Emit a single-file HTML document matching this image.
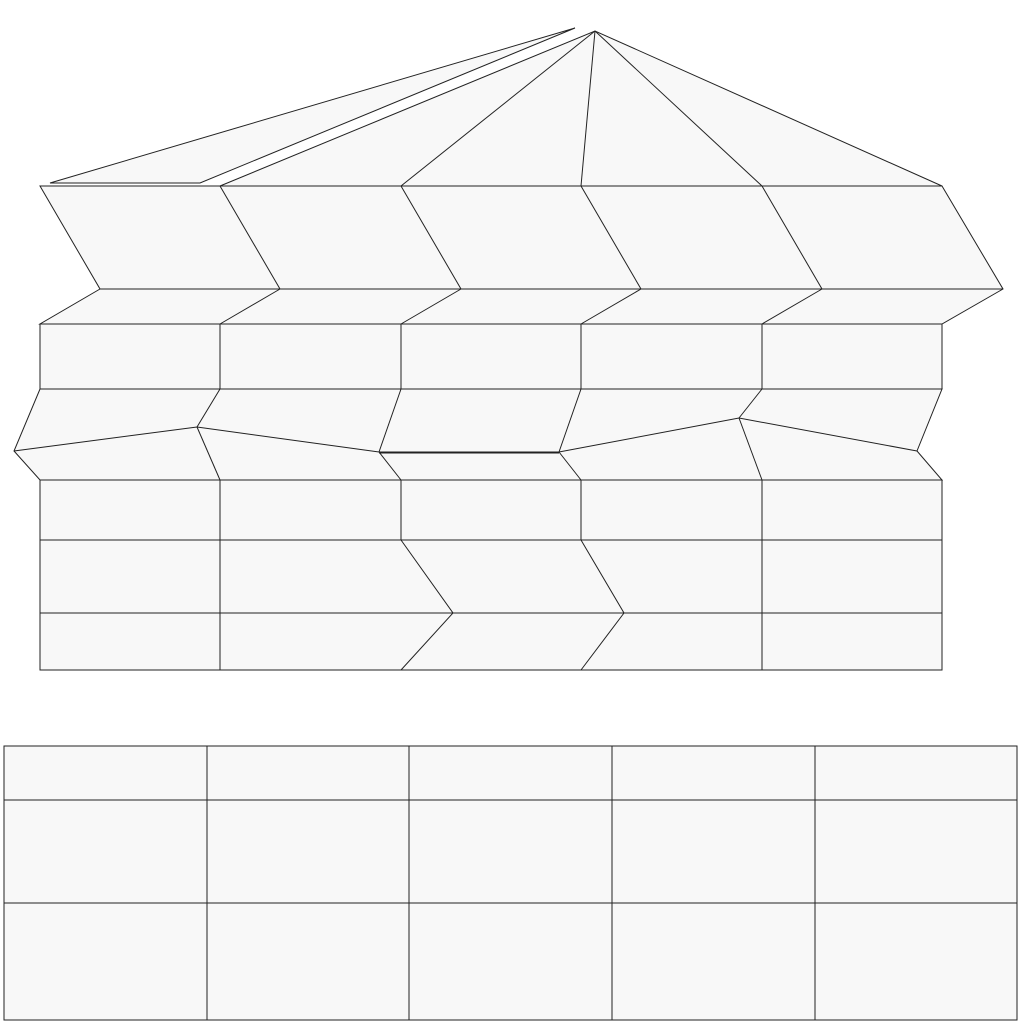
<!DOCTYPE html>
<html><head><meta charset="utf-8"><style>
html,body{margin:0;padding:0;background:#fff;width:1024px;height:1024px;overflow:hidden}
svg{display:block}
</style></head><body>
<svg width="1024" height="1024" viewBox="0 0 1024 1024" fill="#f8f8f8" stroke="#222" stroke-width="1">
<g>
<polygon points="50,183 575,28 200,183"/>
<polygon points="220,186 595,31 942,186"/>
<line x1="595" y1="31" x2="401" y2="186"/>
<line x1="595" y1="31" x2="581" y2="186"/>
<line x1="595" y1="31" x2="762" y2="186"/>
</g>
<g>
<polygon points="40,186 942,186 1003,289 942,324 40,324 100,289"/>
<line x1="100" y1="289" x2="1003" y2="289"/>
<line x1="220" y1="186" x2="280" y2="289"/><line x1="280" y1="289" x2="220" y2="324"/>
<line x1="401" y1="186" x2="461" y2="289"/><line x1="461" y1="289" x2="401" y2="324"/>
<line x1="581" y1="186" x2="641" y2="289"/><line x1="641" y1="289" x2="581" y2="324"/>
<line x1="762" y1="186" x2="822" y2="289"/><line x1="822" y1="289" x2="762" y2="324"/>
</g>
<g>
<rect x="40" y="324" width="902" height="65"/>
<line x1="220" y1="324" x2="220" y2="389"/><line x1="401" y1="324" x2="401" y2="389"/>
<line x1="581" y1="324" x2="581" y2="389"/><line x1="762" y1="324" x2="762" y2="389"/>
</g>
<g>
<polygon points="40,389 942,389 917,451 942,480 40,480 14,451"/>
<polyline fill="none" points="14,451 197,427 379,452 559,452 739,418 917,451"/>
<line x1="379" y1="453" x2="559" y2="453"/>
<line x1="220" y1="389" x2="197" y2="427"/><line x1="197" y1="427" x2="220" y2="480"/>
<line x1="401" y1="389" x2="379" y2="452"/><line x1="379" y1="452" x2="401" y2="480"/>
<line x1="581" y1="389" x2="559" y2="452"/><line x1="559" y1="452" x2="581" y2="480"/>
<line x1="762" y1="389" x2="739" y2="418"/><line x1="739" y1="418" x2="762" y2="480"/>
</g>
<g>
<rect x="40" y="480" width="902" height="190"/>
<line x1="40" y1="540" x2="942" y2="540"/><line x1="40" y1="613" x2="942" y2="613"/>
<line x1="220" y1="480" x2="220" y2="670"/>
<polyline fill="none" points="401,480 401,540 453,613 401,670"/>
<polyline fill="none" points="581,480 581,540 624,613 581,670"/>
<line x1="762" y1="480" x2="762" y2="670"/>
</g>
<g>
<rect x="4" y="746" width="1013" height="274"/>
<line x1="4" y1="800" x2="1017" y2="800"/><line x1="4" y1="903" x2="1017" y2="903"/>
<line x1="207" y1="746" x2="207" y2="1020"/><line x1="409" y1="746" x2="409" y2="1020"/>
<line x1="612" y1="746" x2="612" y2="1020"/><line x1="815" y1="746" x2="815" y2="1020"/>
</g>
</svg>
</body></html>
